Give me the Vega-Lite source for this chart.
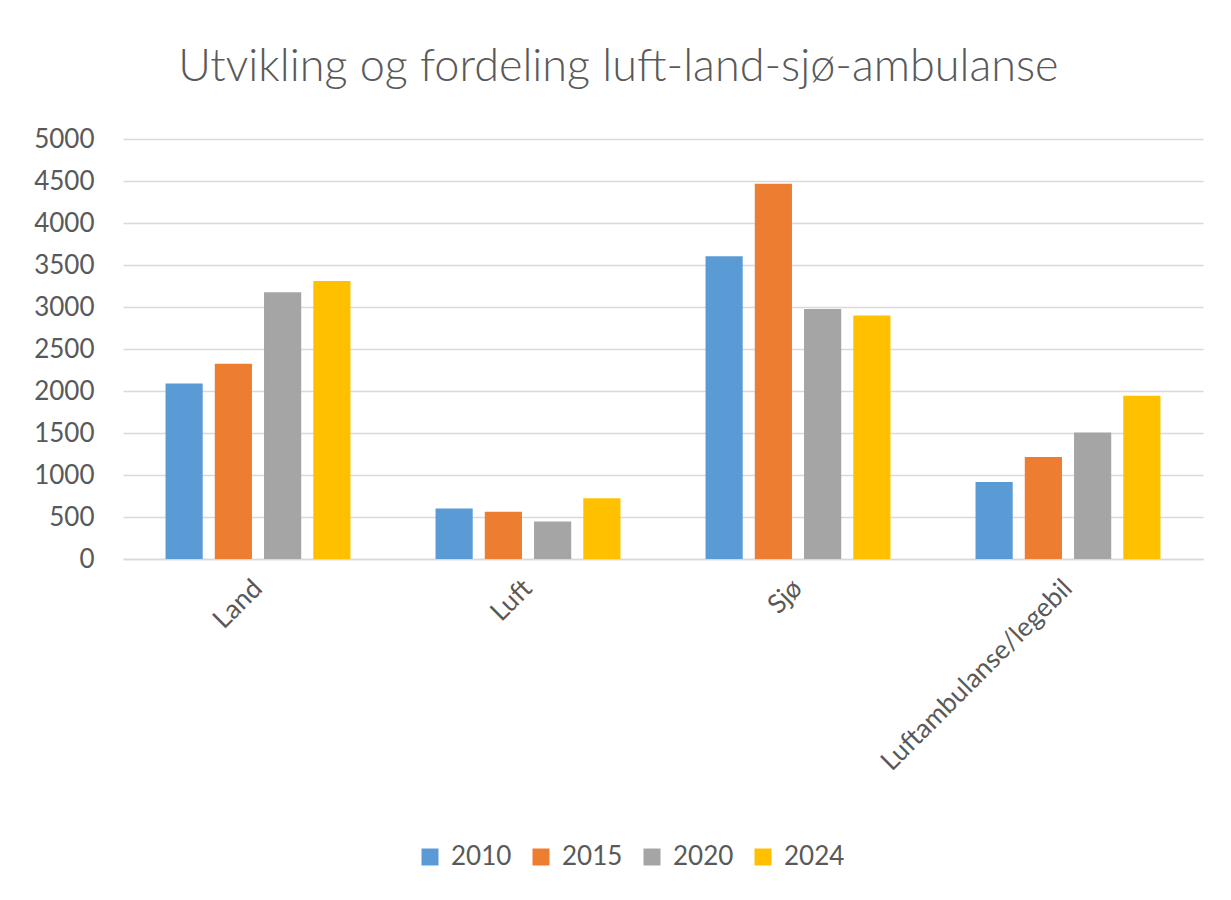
{
  "$schema": "https://vega.github.io/schema/vega-lite/v6.json",
  "autosize": "none",
  "width": 1080,
  "height": 420,
  "padding": {"left": 123, "top": 139, "right": 28, "bottom": 341},
  "background": "white",
  "title": {
    "text": "Utvikling og fordeling luft-land-sjø-ambulanse",
    "fontSize": 45,
    "font": "Lato",
    "fontWeight": 300,
    "color": "#595959",
    "anchor": "middle",
    "frame": "bounds",
    "offset": 36
  },
  "data": {
    "values": [
      {"kategori": "Land", "år": "2010", "antall": 2090},
      {"kategori": "Land", "år": "2015", "antall": 2325},
      {"kategori": "Land", "år": "2020", "antall": 3175},
      {"kategori": "Land", "år": "2024", "antall": 3310},
      {"kategori": "Luft", "år": "2010", "antall": 602},
      {"kategori": "Luft", "år": "2015", "antall": 563},
      {"kategori": "Luft", "år": "2020", "antall": 445},
      {"kategori": "Luft", "år": "2024", "antall": 722},
      {"kategori": "Sjø", "år": "2010", "antall": 3603},
      {"kategori": "Sjø", "år": "2015", "antall": 4468},
      {"kategori": "Sjø", "år": "2020", "antall": 2976},
      {"kategori": "Sjø", "år": "2024", "antall": 2900},
      {"kategori": "Luftambulanse/legebil", "år": "2010", "antall": 917},
      {"kategori": "Luftambulanse/legebil", "år": "2015", "antall": 1214},
      {"kategori": "Luftambulanse/legebil", "år": "2020", "antall": 1507},
      {"kategori": "Luftambulanse/legebil", "år": "2024", "antall": 1944}
    ]
  },
  "mark": {"type": "bar"},
  "encoding": {
    "x": {
      "field": "kategori",
      "type": "nominal",
      "sort": ["Land", "Luft", "Sjø", "Luftambulanse/legebil"],
      "scale": {"paddingInner": 0.315, "paddingOuter": 0.1575},
      "axis": {
        "title": null,
        "labelAngle": -45,
        "labelAlign": "right",
        "labelBaseline": "middle",
        "labelFontSize": 26.5,
        "labelFont": "Lato",
        "labelColor": "#595959",
        "labelPadding": 25,
        "labelLimit": 0,
        "ticks": false,
        "domainColor": "#d9d9d9",
        "domainWidth": 1.5
      }
    },
    "xOffset": {
      "field": "år",
      "type": "nominal",
      "scale": {"paddingInner": 0.245, "paddingOuter": 0}
    },
    "y": {
      "field": "antall",
      "type": "quantitative",
      "scale": {"domain": [0, 5000]},
      "axis": {
        "title": null,
        "values": [0, 500, 1000, 1500, 2000, 2500, 3000, 3500, 4000, 4500, 5000],
        "format": "d",
        "domain": false,
        "ticks": false,
        "labelPadding": 29,
        "labelFontSize": 26,
        "labelFont": "Lato",
        "labelColor": "#595959",
        "gridColor": "#d9d9d9",
        "gridWidth": 1.5
      }
    },
    "color": {
      "field": "år",
      "type": "nominal",
      "scale": {
        "domain": ["2010", "2015", "2020", "2024"],
        "range": ["#5B9BD5", "#ED7D31", "#A5A5A5", "#FFC000"]
      },
      "legend": {
        "title": null,
        "orient": "none",
        "legendX": 294,
        "legendY": 705,
        "direction": "horizontal",
        "symbolType": "square",
        "symbolSize": 289,
        "symbolStrokeWidth": 0,
        "labelFontSize": 26,
        "labelFont": "Lato",
        "labelColor": "#595959",
        "labelOffset": 8,
        "columnPadding": 16
      }
    }
  },
  "config": {
    "view": {"stroke": null}
  }
}
